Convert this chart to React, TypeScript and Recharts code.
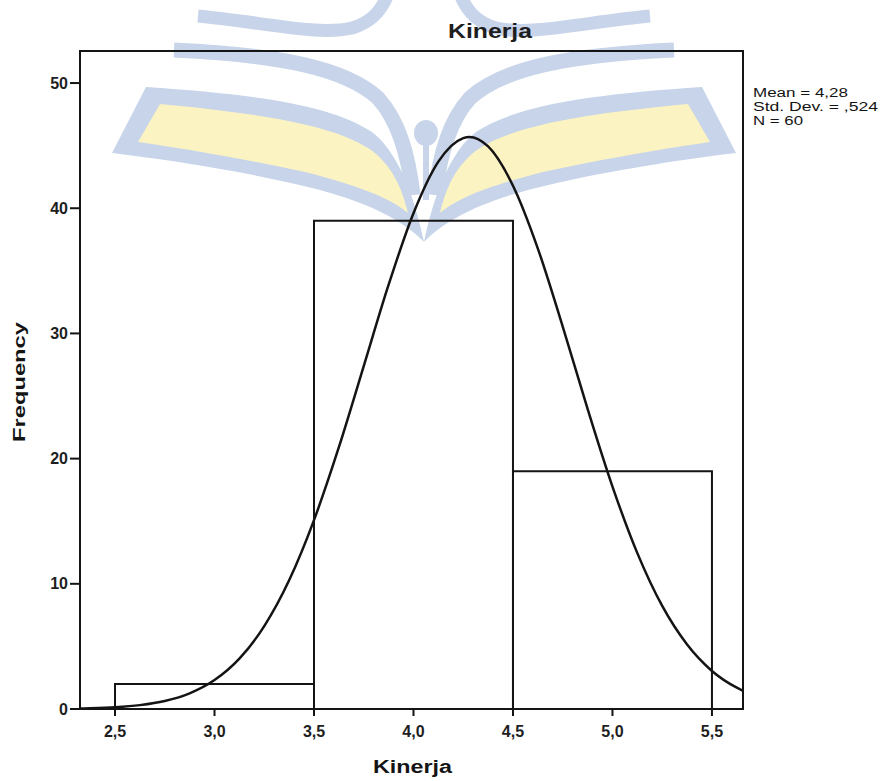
import {
  ComposedChart,
  Line,
  XAxis,
  YAxis,
  ReferenceArea,
} from 'recharts';

// histogram bins (Kinerja)
const binStart = [2.5, 3.5, 4.5];
const binEnd = [3.5, 4.5, 5.5];
const binCount = [2, 39, 19];

// normal curve (Mean 4,28, Std. Dev. ,524, N 60)
const curveX = [
  2.324, 2.375, 2.5, 2.625, 2.75, 2.875, 3.0, 3.125, 3.25, 3.375, 3.5, 3.625,
  3.75, 3.875, 4.0, 4.125, 4.25, 4.28, 4.375, 4.5, 4.625, 4.75, 4.875, 5.0,
  5.125, 5.25, 5.375, 5.5, 5.625, 5.656,
];
const curveY = [
  0.04, 0.06, 0.14, 0.31, 0.64, 1.25, 2.31, 4.02, 6.62, 10.28, 15.09, 20.91,
  27.39, 33.89, 39.6, 43.72, 45.6, 45.7, 44.94, 41.8, 36.78, 30.55, 23.97,
  17.77, 12.45, 8.23, 5.15, 3.04, 1.7, 1.45,
];

const xTicks = [2.5, 3.0, 3.5, 4.0, 4.5, 5.0, 5.5];
const yTicks = [0, 10, 20, 30, 40, 50];
const statLines = ['Mean = 4,28', 'Std. Dev. = ,524', 'N = 60'];

const X_DOMAIN: [number, number] = [2.324, 5.656];
const Y_DOMAIN: [number, number] = [0, 52.56];

const curveData = curveX.map((x, i) => ({ x, y: curveY[i] }));

const FONT = '"Liberation Sans", Arial, sans-serif';
const INK = '#141414';
const tickStyle = { fontSize: 16, fontWeight: 'bold', fill: '#1e1e1e', fontFamily: FONT };

// faint logo watermark behind the chart
function Watermark() {
  const blue = '#c7d4e9';
  const yellow = '#fcf3c2';
  const half = (
    <g>
      <path d="M198,16 C262,22 318,36 352,28 C372,22 382,10 388,-6" fill="none" stroke={blue} strokeWidth={13} />
      <path d="M174,50 C280,55 345,68 378,98 C398,120 408,152 413,195" fill="none" stroke={blue} strokeWidth={15} />
      <path
        d="M146,87 C250,94 330,104 372,132 C398,152 414,195 424,242 C405,222 372,204 320,190 C250,172 170,160 112,153 Z"
        fill={blue}
      />
      <path
        d="M160,104 C255,113 330,124 368,148 C392,164 402,188 408,213 C390,198 360,186 305,172 C240,158 180,148 138,142 Z"
        fill={yellow}
      />
    </g>
  );
  return (
    <svg width={883} height={781} style={{ position: 'absolute', left: 0, top: 0 }}>
      {half}
      <g transform="translate(848,0) scale(-1,1)">{half}</g>
      <ellipse cx={426} cy={133} rx={12} ry={13} fill={blue} />
      <rect x={423} y={140} width={6} height={60} fill={blue} />
    </svg>
  );
}

function Texts() {
  return (
    <svg width={883} height={781} style={{ position: 'absolute', left: 0, top: 0, pointerEvents: 'none' }}>
      <text x={490} y={38} textAnchor="middle" fontFamily={FONT} fontSize={20} fontWeight="bold" fill="#1e1e1e"
        textLength={84} lengthAdjust="spacingAndGlyphs">Kinerja</text>
      <text x={412.5} y={773} textAnchor="middle" fontFamily={FONT} fontSize={18} fontWeight="bold" fill={INK}
        textLength={79} lengthAdjust="spacingAndGlyphs">Kinerja</text>
      <text transform="translate(25,382) rotate(-90)" textAnchor="middle" fontFamily={FONT} fontSize={17}
        fontWeight="bold" fill={INK} textLength={120} lengthAdjust="spacingAndGlyphs">Frequency</text>
      {statLines.map((s, i) => (
        <text key={s} x={753} y={97 + i * 14} fontFamily={FONT} fontSize={12} fill={INK}
          textLength={[95, 125, 50][i]} lengthAdjust="spacingAndGlyphs">{s}</text>
      ))}
    </svg>
  );
}

export default function App() {
  return (
    <div style={{ position: 'absolute', left: 0, top: 0, width: 883, height: 781, background: '#fff' }}>
      <Watermark />
      <div style={{ position: 'absolute', left: 0, top: 0 }}>
        <ComposedChart
          width={883}
          height={781}
          data={curveData}
          margin={{ top: 51, right: 140, bottom: 42, left: 0 }}
        >
          <XAxis
            dataKey="x"
            type="number"
            domain={X_DOMAIN}
            ticks={xTicks}
            interval={0}
            allowDataOverflow
            tickFormatter={(v: number) => v.toFixed(1).replace('.', ',')}
            height={30}
            tickSize={7}
            tickMargin={10}
            tick={tickStyle}
            axisLine={{ stroke: INK, strokeWidth: 2 }}
            tickLine={{ stroke: INK, strokeWidth: 2 }}
          />
          <YAxis
            type="number"
            domain={Y_DOMAIN}
            ticks={yTicks}
            interval={0}
            allowDataOverflow
            width={80}
            tickSize={10}
            tickMargin={2}
            tick={tickStyle}
            axisLine={{ stroke: INK, strokeWidth: 2 }}
            tickLine={{ stroke: INK, strokeWidth: 2 }}
          />
          {/* plot frame */}
          <ReferenceArea
            x1={X_DOMAIN[0]}
            x2={X_DOMAIN[1]}
            y1={Y_DOMAIN[0]}
            y2={Y_DOMAIN[1]}
            fill="none"
            fillOpacity={0}
            stroke={INK}
            strokeWidth={2}
            strokeOpacity={1}
            ifOverflow="visible"
          />
          {binCount.map((c, i) => (
            <ReferenceArea
              key={i}
              x1={binStart[i]}
              x2={binEnd[i]}
              y1={0}
              y2={c}
              fill="none"
              fillOpacity={0}
              stroke={INK}
              strokeWidth={2}
              strokeOpacity={1}
            />
          ))}
          <Line
            dataKey="y"
            type="monotone"
            stroke={INK}
            strokeWidth={2.5}
            dot={false}
            activeDot={false}
            isAnimationActive={false}
          />
        </ComposedChart>
      </div>
      <Texts />
    </div>
  );
}
